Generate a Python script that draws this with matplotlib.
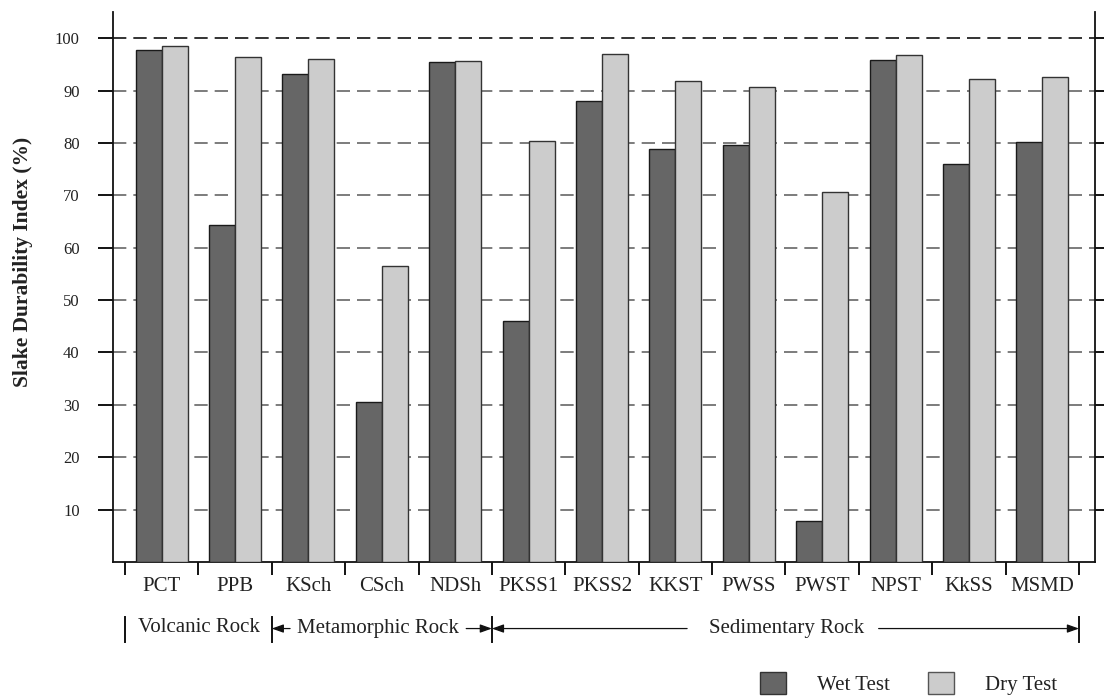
import numpy as np
import matplotlib
matplotlib.use('Agg')
import matplotlib.pyplot as plt
from matplotlib.patches import Patch

plt.rcParams['font.family'] = 'serif'
plt.rcParams['font.serif'] = ['Liberation Serif', 'DejaVu Serif']

rocks = ['PCT', 'PPB', 'KSch', 'CSch', 'NDSh', 'PKSS1', 'PKSS2',
         'KKST', 'PWSS', 'PWST', 'NPST', 'KkSS', 'MSMD']
wet = [97.7, 64.4, 93.2, 30.6, 95.5, 46.0, 88.0, 78.8, 79.6, 7.8, 95.9, 76.0, 80.2]
dry = [98.5, 96.5, 96.1, 56.6, 95.6, 80.3, 96.9, 91.9, 90.6, 70.7, 96.8, 92.2, 92.6]

# rock groups: (label, first index, last index)
groups = [('Volcanic Rock', 0, 1), ('Metamorphic Rock', 2, 4), ('Sedimentary Rock', 5, 12)]

wet_color = '#666666'
dry_color = '#cccccc'
txt = '#222222'

fig = plt.figure(figsize=(11.04, 7.0), dpi=100)
ax = fig.add_axes([113/1104, 138/700, 982/1104, 550/700])

x = np.arange(len(rocks))
w = 0.354
ax.bar(x - w/2, wet, w, color=wet_color, edgecolor='#1a1a1a', linewidth=1.0, zorder=3)
ax.bar(x + w/2, dry, w, color=dry_color, edgecolor='#333333', linewidth=1.0, zorder=3)

# dashed horizontal guides
for yv in range(10, 101, 10):
    c = '#111111' if yv == 100 else '#666666'
    ax.axhline(yv, color=c, lw=1.2, ls=(0, (8, 4.2)), zorder=1)

ax.set_xlim(-0.663, 12.718)
ax.set_ylim(0, 105)

ax.spines['top'].set_visible(False)
for s in ['left', 'right', 'bottom']:
    ax.spines[s].set_linewidth(1.3)
    ax.spines[s].set_color('#111111')

ax.set_yticks(range(10, 101, 10))
ax.tick_params(axis='y', which='major', direction='out', length=11, width=1.3,
               labelsize=12, pad=13, labelcolor=txt, right=True, labelright=False)

# boundary ticks between rocks, names centred on each pair of bars
ax.set_xticks(np.arange(-0.5, len(rocks), 1.0))
ax.set_xticklabels([])
ax.set_xticks(x, minor=True)
ax.set_xticklabels(rocks, minor=True)
ax.tick_params(axis='x', which='major', direction='out', length=9, width=1.3)
ax.tick_params(axis='x', which='minor', length=0, labelsize=15, pad=11, labelcolor=txt)

ax.set_ylabel('Slake Durability Index (%)', fontsize=15.5, fontweight='bold', color=txt)
ax.yaxis.set_label_coords(-0.081, 0.545)

# group bracket row under the rock names
tr = ax.get_xaxis_transform()
yrow = -0.12
for xb in [-0.5, 1.5, 4.5, 12.5]:
    ax.plot([xb, xb], [-0.1, -0.145], transform=tr, color='#111111', lw=1.4, clip_on=False)

ax.text(0.51, yrow, groups[0][0], transform=tr, ha='center', va='center',
        fontsize=15, color=txt)
ax.text(2.95, yrow, groups[1][0], transform=tr, ha='center', va='center',
        fontsize=15, color=txt)
ax.text(8.52, yrow, groups[2][0], transform=tr, ha='center', va='center',
        fontsize=15, color=txt)

ap = dict(arrowstyle='-|>,head_length=0.7,head_width=0.25', color='#111111', lw=0.9,
          shrinkA=0, shrinkB=0)
yarr = -0.121
for start, end in [(1.75, 1.5), (4.15, 4.5), (7.16, 4.5), (9.77, 12.5)]:
    ax.annotate('', xy=(end, yarr), xytext=(start, yarr), xycoords=tr, textcoords=tr,
                arrowprops=ap, annotation_clip=False)

handles = [Patch(facecolor=wet_color, edgecolor='#333333', lw=1.0, label='Wet Test'),
           Patch(facecolor=dry_color, edgecolor='#555555', lw=1.0, label='Dry Test')]
fig.legend(handles=handles, loc='center left', bbox_to_anchor=(760/1104, 0.024),
           ncol=2, frameon=False, fontsize=15, handlelength=1.25, handleheight=1.25,
           handletextpad=1.5, columnspacing=1.8, borderpad=0, borderaxespad=0,
           labelcolor=txt)

fig.savefig('out.png', dpi=100, facecolor='white')
